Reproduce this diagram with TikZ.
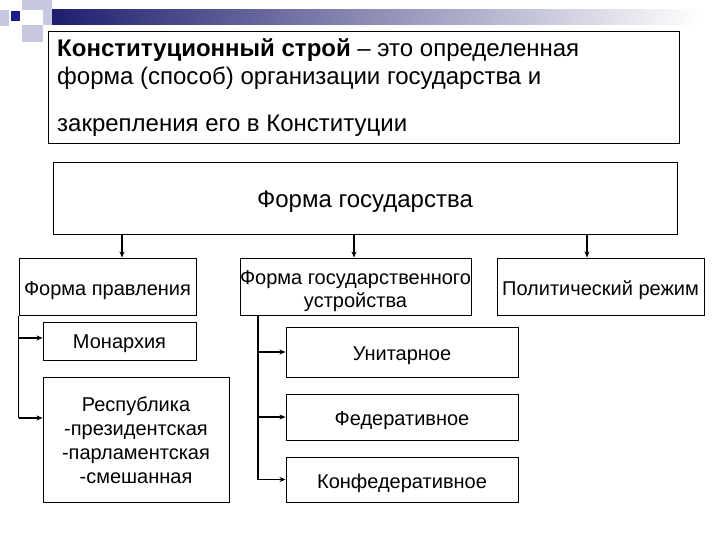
\documentclass[tikz,border=0pt]{standalone}
\usepackage{fontspec}
\setmainfont{Liberation Sans}
\usetikzlibrary{arrows.meta}
\definecolor{navy}{RGB}{30,30,110}
\definecolor{midblue}{RGB}{150,150,185}
\definecolor{lav}{RGB}{200,200,225}
\definecolor{dblue}{RGB}{28,28,140}
\begin{document}
\begin{tikzpicture}[x=1pt,y=-1pt,
  box/.style={draw=black, line width=1pt, fill=white, inner sep=0pt, align=center,
    font=\fontsize{20}{23.5}\selectfont, text height=17pt, text depth=0pt},
  arr/.style={line width=1.5pt, -{Stealth[length=6pt,width=5pt]}},
  conn/.style={line width=1.5pt},
  deftext/.style={anchor=base west, inner sep=0pt, font=\fontsize{24}{26}\selectfont}
]
\useasboundingbox (0,0) rectangle (720,540);
\fill[white] (0,0) rectangle (720,540);
% decoration
\shade[left color=navy, middle color=midblue, right color=white] (52,10) rectangle (700,25);
\fill[lav] (0,10) rectangle (9,26);
\fill[lav] (22,0) rectangle (43,10);
\fill[lav] (43,0) rectangle (52,25);
\fill[lav] (22,25) rectangle (43,42);
\fill[dblue] (11,11) rectangle (20,21);
% definition box
\node[draw=black, line width=1pt, minimum width=631pt, minimum height=112pt, inner sep=0pt] (defbox) at (363.5,88) {};
\node[deftext] (d1) at (57,56.5) {\textbf{Конституционный строй} – это определенная};
\node[deftext] (d2) at (57,84.5) {форма (способ) организации государства и};
\node[deftext] (d3) at (57,132) {закрепления его в Конституции};
% main boxes
\node[box, minimum width=624pt, minimum height=71pt, font=\fontsize{24}{27}\selectfont, text height=18.2pt] (gov) at (365,198.5) {Форма государства};
\node[box, minimum width=177pt, minimum height=57pt] (pravl) at (107.5,286.5) {Форма правления};
\node[box, minimum width=231pt, minimum height=57pt, font=\fontsize{20}{23.3}\selectfont, text height=41.6pt] (ustr) at (355.5,286.5) {Форма государственного\\устройства};
\node[box, minimum width=207pt, minimum height=57pt] (rezh) at (600.5,286.5) {Политический режим};
\node[box, minimum width=153pt, minimum height=38pt, text height=15.4pt] (mon) at (119.5,341) {Монархия};
\node[box, minimum width=186pt, minimum height=125pt, font=\fontsize{20}{24}\selectfont, text height=87.6pt] (resp) at (136,439.5) {Республика\\-президентская\\-парламентская\\-смешанная};
\node[box, minimum width=232pt, minimum height=50pt, text height=17.8pt] (unit) at (402,352) {Унитарное};
\node[box, minimum width=232pt, minimum height=46pt] (fed) at (402,417) {Федеративное};
\node[box, minimum width=232pt, minimum height=45pt] (konf) at (402,479.5) {Конфедеративное};
% helper coordinates
\coordinate (x1) at (122,0);
\coordinate (x2) at (354,0);
\coordinate (x3) at (587,0);
\coordinate (vx) at (258,0);
\coordinate (ym) at (0,338);
\coordinate (yr) at (0,418);
% arrows from gov
\draw[arr] (gov.south -| x1) -- (pravl.north -| x1);
\draw[arr] (gov.south -| x2) -- (ustr.north -| x2);
\draw[arr] (gov.south -| x3) -- (rezh.north -| x3);
% left branch
\draw[conn] (pravl.south west) -- (pravl.south west |- yr);
\draw[arr] (pravl.south west |- ym) -- (mon.west |- ym);
\draw[arr] (pravl.south west |- yr) -- (resp.west |- yr);
% right branch
\draw[conn] (ustr.south -| vx) -- (konf.west -| vx);
\draw[arr] (unit.west -| vx) -- (unit.west);
\draw[arr] (fed.west -| vx) -- (fed.west);
\draw[arr] (konf.west -| vx) -- (konf.west);
\end{tikzpicture}
\end{document}
